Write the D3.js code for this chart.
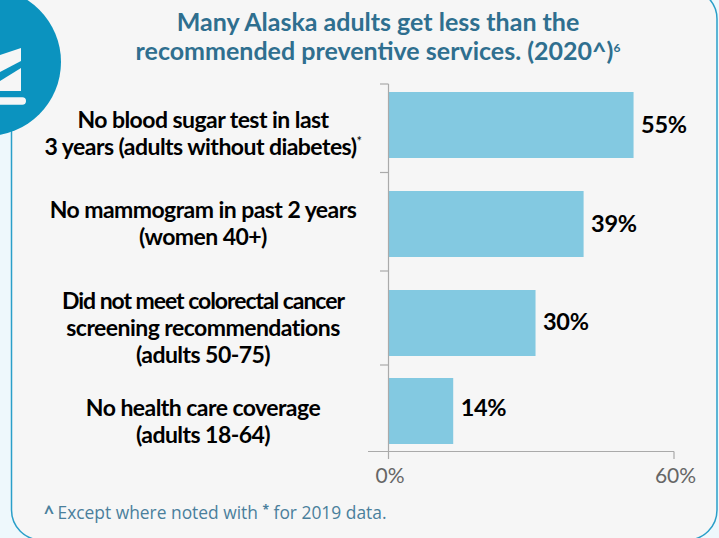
<!DOCTYPE html>
<html>
<head>
<meta charset="utf-8">
<script src="https://cdn.jsdelivr.net/npm/d3@7"></script>
<style>
  html, body { margin: 0; padding: 0; background: #eef8fc; overflow: hidden; }
  text { font-family: Lato, sans-serif; }
</style>
</head>
<body>
<svg id="chart" width="719" height="538"></svg>
<script>
const categories = ["blood", "mammogram", "colorectal", "coverage"];
const categoryLines = [
  ["No blood sugar test in last", "3 years (adults without diabetes)"],
  ["No mammogram in past 2 years", "(women 40+)"],
  ["Did not meet colorectal cancer", "screening recommendations", "(adults 50-75)"],
  ["No health care coverage", "(adults 18-64)"]
];
// bar lengths as drawn in the picture, they do not quite follow the printed labels
const barValues = [51.5, 41, 30.9, 13.6];
const valueLabels = ["55%", "39%", "30%", "14%"];
const axisTicks = [0, 60];
const titleLines = ["Many Alaska adults get less than the", "recommended preventive services. (2020^)"];

var svg = d3.select("#chart");

// panel behind the chart
svg.append("rect")
  .attr("x", 11.5).attr("y", -11)
  .attr("width", 705.5).attr("height", 551)
  .attr("rx", 30)
  .attr("fill", "#f6f6f6")
  .attr("stroke", "#2a9fc9")
  .attr("stroke-width", 1.5);

// corner badge
svg.append("circle")
  .attr("cx", -13).attr("cy", 62).attr("r", 74)
  .attr("fill", "#0b93bf");
svg.append("path").attr("fill", "#f6f6f6").attr("d", "M0,55L21,48V61L0,72Z");
svg.append("path").attr("fill", "#f6f6f6").attr("d", "M0,81L21,68V91H0Z");
svg.append("rect").attr("x", -8).attr("y", 97.3).attr("width", 34).attr("height", 7.4).attr("rx", 3.7).attr("fill", "#f6f6f6");

var x = d3.scaleLinear().domain([0, 60]).range([388.5, 674]);
// the rows in the picture are not evenly spaced
var rowEdges = [84, 172.5, 271, 365, 451.5];
var barTop = d3.scaleOrdinal().domain(categories).range([92, 191, 290, 378]);
var labelTop = d3.scaleOrdinal().domain(categories).range([128, 218, 308.5, 416]);
var valueBase = d3.scaleOrdinal().domain(categories).range([133, 232, 330, 416]);
var barHeight = 66;

// title
var title = svg.append("text")
  .attr("text-anchor", "middle")
  .attr("fill", "#2f6f8f")
  .style("font-size", "25px")
  .style("font-weight", 700);
titleLines.forEach((t, i) => {
  title.append("tspan").attr("x", 378).attr("y", 31 + i * 28.5).text(t);
});
title.append("tspan")
  .attr("dy", -8)
  .style("font-size", "12px")
  .text("6");

// bars
svg.selectAll(".bar")
  .data(categories)
  .join("rect")
  .attr("class", "bar")
  .attr("x", x(0))
  .attr("y", d => barTop(d))
  .attr("width", (d, i) => x(barValues[i]) - x(0))
  .attr("height", barHeight)
  .attr("fill", "#83c9e1");

// axes
var xAxis = d3.axisBottom(x).tickValues(axisTicks).tickFormat(d => d + "%").tickSize(0).tickPadding(17);
var xG = svg.append("g").attr("transform", "translate(0,451.5)").call(xAxis);
xG.select(".domain").remove();
xG.selectAll("text").attr("fill", "#666").attr("dx", 1).style("font-size", "21px").style("font-family", "Lato, sans-serif");

svg.append("line").attr("x1", 368).attr("x2", 674).attr("y1", 451.5).attr("y2", 451.5).attr("stroke", "#aaa").attr("stroke-width", 1.2);
svg.append("line").attr("x1", x(0)).attr("x2", x(0)).attr("y1", 84).attr("y2", 459).attr("stroke", "#aaa").attr("stroke-width", 1.2);
svg.append("line").attr("x1", x(60)).attr("x2", x(60)).attr("y1", 451.5).attr("y2", 459).attr("stroke", "#aaa").attr("stroke-width", 1.2);
svg.selectAll(".row-tick")
  .data(rowEdges.slice(0, 4))
  .join("line")
  .attr("class", "row-tick")
  .attr("x1", 380).attr("x2", x(0))
  .attr("y1", d => d).attr("y2", d => d)
  .attr("stroke", "#aaa").attr("stroke-width", 1.2);

// value labels
svg.selectAll(".value")
  .data(categories)
  .join("text")
  .attr("class", "value")
  .attr("x", (d, i) => x(barValues[i]) + 7.5)
  .attr("y", d => valueBase(d))
  .attr("fill", "#000")
  .style("font-size", "23.5px")
  .style("font-weight", 700)
  .style("letter-spacing", "-0.3px")
  .text((d, i) => valueLabels[i]);

// category labels
categories.forEach((c, i) => {
  var lines = categoryLines[i];
  var label = svg.append("text")
    .attr("text-anchor", "middle")
    .attr("fill", "#000")
    .style("font-size", "23px")
    .style("font-weight", 700)
    .style("letter-spacing", "-0.55px");
  lines.forEach((t, j) => {
    label.append("tspan")
      .attr("x", 203)
      .attr("y", labelTop(c) + j * 27)
      // this line runs much narrower in the picture
      .style("letter-spacing", t.startsWith("Did") ? "-1.05px" : null)
      .text(t);
  });
  if (i === 0) {
    label.append("tspan").attr("dy", -9).style("font-size", "13px").style("font-weight", 400).text("*");
  }
});

// footnote
var foot = svg.append("text")
  .attr("x", 44).attr("y", 519)
  .attr("fill", "#4a7f9c")
  .style("font-family", "'Open Sans', sans-serif")
  .style("font-size", "17.4px");
foot.append("tspan").style("font-weight", 700).text("^");
foot.append("tspan").attr("dx", -1).text(" Except where noted with ");
foot.append("tspan").attr("dy", -5).style("font-size", "12px").style("font-weight", 700).text("*");
foot.append("tspan").attr("dy", 5).text(" for 2019 data.");
</script>
</body>
</html>
